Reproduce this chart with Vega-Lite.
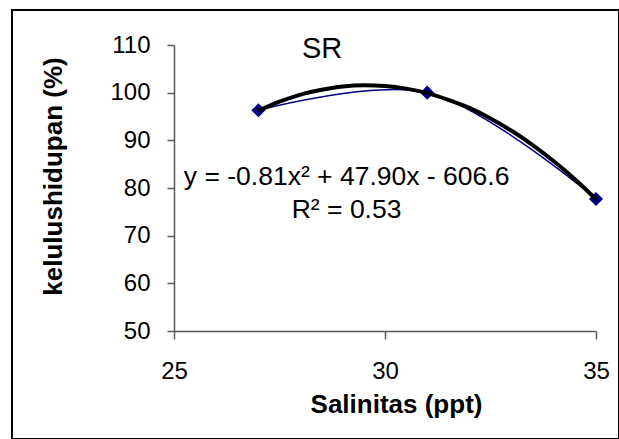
{
  "$schema": "https://vega.github.io/schema/vega-lite/v6.json",
  "width": 607,
  "height": 429,
  "autosize": {"type": "none"},
  "padding": {"left": 12, "top": 10, "right": 0, "bottom": 0},
  "background": "white",
  "config": {
    "view": {"stroke": "black", "strokeWidth": 2},
    "font": "Liberation Sans",
    "axis": {
      "labelFont": "Liberation Sans",
      "titleFont": "Liberation Sans",
      "labelColor": "black",
      "titleColor": "black",
      "domainColor": "#595959",
      "tickColor": "#595959",
      "domainWidth": 1.5,
      "tickWidth": 1.5,
      "grid": false
    }
  },
  "title": {
    "text": "SR",
    "anchor": "start",
    "frame": "group",
    "orient": "top",
    "offset": 0,
    "baseline": "alphabetic",
    "dx": 290,
    "dy": 77,
    "fontSize": 29,
    "fontWeight": "normal",
    "font": "Liberation Sans",
    "color": "black"
  },
  "datasets": {
    "obs": [
      {"salinitas": 27, "sr": 96.3},
      {"salinitas": 31, "sr": 100.0},
      {"salinitas": 35, "sr": 77.7}
    ],
    "trend": [
      {"salinitas": 27.0, "sr": 96.2},
      {"salinitas": 27.5, "sr": 98.1},
      {"salinitas": 28.0, "sr": 99.6},
      {"salinitas": 28.5, "sr": 100.6},
      {"salinitas": 29.0, "sr": 101.3},
      {"salinitas": 29.5, "sr": 101.55},
      {"salinitas": 30.0, "sr": 101.4},
      {"salinitas": 30.5, "sr": 100.85},
      {"salinitas": 31.0, "sr": 99.9},
      {"salinitas": 31.5, "sr": 98.5},
      {"salinitas": 32.0, "sr": 96.8},
      {"salinitas": 32.5, "sr": 94.6},
      {"salinitas": 33.0, "sr": 92.0},
      {"salinitas": 33.5, "sr": 89.0},
      {"salinitas": 34.0, "sr": 85.6},
      {"salinitas": 34.5, "sr": 81.85},
      {"salinitas": 35.0, "sr": 77.65}
    ],
    "eq": [
      {"salinitas": 29.09, "sr": 80.63, "label": "y = -0.81x² + 47.90x - 606.6"},
      {"salinitas": 29.09, "sr": 73.7, "label": "R² = 0.53"}
    ]
  },
  "layer": [
    {
      "data": {"name": "obs"},
      "mark": {"type": "line", "interpolate": "catmull-rom", "color": "#000080", "strokeWidth": 1.5},
      "encoding": {
        "x": {
          "field": "salinitas",
          "type": "quantitative",
          "scale": {"domain": [25, 35], "range": [162, 584], "nice": false, "zero": false},
          "axis": {
            "title": "Salinitas (ppt)",
            "values": [25, 30, 35],
            "format": "d",
            "labelFontSize": 24,
            "labelFlush": false,
            "tickSize": 8,
            "labelPadding": 20,
            "offset": -108,
            "titleFontSize": 26,
            "titleFontWeight": "bold",
            "titleX": 384,
            "titleY": 81,
            "titleBaseline": "alphabetic",
            "titleAlign": "center"
          }
        },
        "y": {
          "field": "sr",
          "type": "quantitative",
          "scale": {"domain": [50, 110], "range": [321, 35], "nice": false, "zero": false},
          "axis": {
            "title": "kelulushidupan (%)",
            "values": [50, 60, 70, 80, 90, 100, 110],
            "format": "d",
            "labelFontSize": 24,
            "tickSize": 7,
            "labelPadding": 17,
            "offset": -162,
            "titleFontSize": 26,
            "titleFontWeight": "bold",
            "titleAngle": -90,
            "titleX": -121,
            "titleY": 166,
            "titleBaseline": "middle",
            "titleAlign": "center"
          }
        }
      }
    },
    {
      "data": {"name": "obs"},
      "mark": {"type": "point", "shape": "diamond", "filled": true, "size": 200, "color": "#000080", "opacity": 1},
      "encoding": {
        "x": {"field": "salinitas", "type": "quantitative"},
        "y": {"field": "sr", "type": "quantitative"}
      }
    },
    {
      "data": {"name": "trend"},
      "mark": {"type": "line", "interpolate": "monotone", "color": "black", "strokeWidth": 4},
      "encoding": {
        "x": {"field": "salinitas", "type": "quantitative"},
        "y": {"field": "sr", "type": "quantitative"}
      }
    },
    {
      "data": {"name": "eq"},
      "mark": {"type": "text", "align": "center", "baseline": "alphabetic", "fontSize": 26.5, "font": "Liberation Sans", "color": "black"},
      "encoding": {
        "x": {"field": "salinitas", "type": "quantitative"},
        "y": {"field": "sr", "type": "quantitative"},
        "text": {"field": "label", "type": "nominal"}
      }
    }
  ]
}
